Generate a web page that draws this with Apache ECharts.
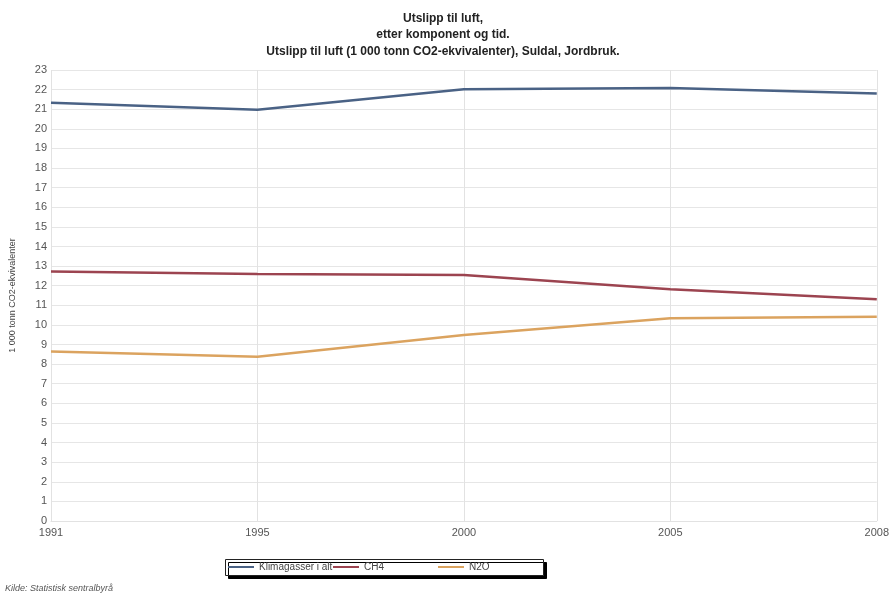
<!DOCTYPE html>
<html><head><meta charset="utf-8">
<script src="https://cdn.jsdelivr.net/npm/echarts@6/dist/echarts.min.js"></script>
<style>html,body{margin:0;padding:0;background:#fff}#c{width:892px;height:598px}</style>
</head><body><div id="c"></div>
<script>
const years = ['1991', '1995', '2000', '2005', '2008'];
const klimagasser = [21.33, 20.97, 22.02, 22.08, 21.8];
const ch4 = [12.72, 12.6, 12.55, 11.82, 11.31];
const n2o = [8.64, 8.38, 9.49, 10.34, 10.42];
const seriesNames = ['Klimagasser i alt', 'CH4', 'N2O'];
const colors = ['#4a6285', '#9c4450', '#dba35f'];

const chart = echarts.init(document.getElementById('c'));
const mk = (name, data, color) => ({
  name, type: 'line', data, symbol: 'none', smooth: false,
  lineStyle: { color, width: 2.5 }, itemStyle: { color }
});
const legendLefts = [228, 333, 438];
const legends = seriesNames.map((n, i) => ({
  data: [n], left: legendLefts[i], top: 562, padding: 0,
  itemWidth: 26, itemHeight: 2, icon: 'rect',
  textStyle: { color: '#444', fontSize: 10 }
}));
chart.setOption({
  animation: false,
  textStyle: { fontFamily: 'Liberation Sans' },
  title: {
    text: 'Utslipp til luft,\netter komponent og tid.\nUtslipp til luft (1 000 tonn CO2-ekvivalenter), Suldal, Jordbruk.',
    left: 438, top: 5, textAlign: 'center',
    textStyle: { fontSize: 12, fontWeight: 'bold', color: '#222', lineHeight: 16.5 }
  },
  grid: { left: 48, right: 15, top: 70, bottom: 77, containLabel: false },
  xAxis: {
    type: 'category', data: years, boundaryGap: false,
    axisLine: { show: true, lineStyle: { color: '#e2e2e2' } },
    axisTick: { show: false },
    axisLabel: { color: '#555', fontSize: 11, margin: 6 },
    splitLine: { show: true, lineStyle: { color: '#e2e2e2', width: 1 } }
  },
  yAxis: {
    type: 'value', min: 0, max: 23, interval: 1,
    name: '1 000 tonn CO2-ekvivalenter', nameLocation: 'middle', nameGap: 34,
    nameTextStyle: { color: '#444', fontSize: 9 },
    axisLine: { show: false }, axisTick: { show: false },
    axisLabel: { color: '#555', fontSize: 11, margin: 4 },
    splitLine: { lineStyle: { color: '#e6e6e6', width: 1 } }
  },
  legend: legends,
  graphic: [{
    type: 'rect', left: 225, top: 559, z: -1,
    shape: { width: 318, height: 16 },
    style: { fill: '#fff', stroke: '#222', lineWidth: 1,
      shadowColor: '#000', shadowOffsetX: 3, shadowOffsetY: 3, shadowBlur: 0 }
  }, {
    type: 'text', left: 5, top: 584,
    style: { text: 'Kilde: Statistisk sentralbyrå', fill: '#555', font: 'italic 9px "Liberation Sans"' }
  }],
  series: [
    mk(seriesNames[0], klimagasser, colors[0]),
    mk(seriesNames[1], ch4, colors[1]),
    mk(seriesNames[2], n2o, colors[2])
  ]
});
</script></body></html>
